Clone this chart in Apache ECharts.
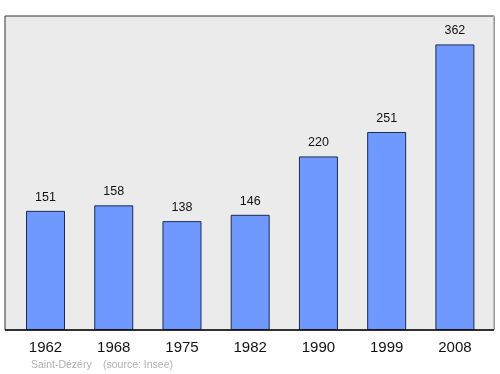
<!DOCTYPE html>
<html><head><meta charset="utf-8">
<script src="https://cdn.jsdelivr.net/npm/echarts@6/dist/echarts.min.js"></script>
<style>html,body{margin:0;padding:0;background:#fff}#c{width:500px;height:374px}</style>
</head><body><div id="c"></div>
<script>
const categories = ['1962','1968','1975','1982','1990','1999','2008'];
const population = [151,158,138,146,220,251,362];
const footerPlace = 'Saint-Dézéry';
const footerSource = '(source: Insee)';

const chart = echarts.init(document.getElementById('c'), null, {renderer:'canvas'});
chart.setOption({
  animation:false,
  grid:[
    {left:5, top:16, right:6, bottom:44, show:true, backgroundColor:'#ebebeb', borderColor:'#333', borderWidth:1, z:0},
    {left:11.4, top:16, right:11, bottom:44}
  ],
  xAxis:[
    {gridIndex:0, type:'value', min:0, max:1, show:false},
    {gridIndex:1, type:'category', data:categories, boundaryGap:true,
     axisLine:{show:false}, axisTick:{show:false},
     axisLabel:{color:'#111', fontSize:15, fontFamily:'Liberation Sans, Arial, sans-serif', margin:10}}
  ],
  yAxis:[
    {gridIndex:0, type:'value', min:0, max:1, show:false},
    {gridIndex:1, type:'value', min:0, max:398, show:false}
  ],
  series:[{
    type:'bar', xAxisIndex:1, yAxisIndex:1, data:population, barWidth:39,
    itemStyle:{color:'#7099ff', borderColor:'#1c2a55', borderWidth:1},
    label:{show:true, position:'top', distance:7, color:'#111', fontSize:12.5, fontFamily:'Liberation Sans, Arial, sans-serif'}
  }],
  graphic:[
    {type:'line', shape:{x1:493.5, y1:16, x2:493.5, y2:330}, style:{stroke:'#bbb', lineWidth:1}, z:10},
    {type:'line', shape:{x1:5, y1:330, x2:494, y2:330}, style:{stroke:'#111', lineWidth:1.5}, z:10},
    {type:'text', left:31, top:359.5, style:{text:footerPlace, fill:'#b0b0b0', fontSize:10.5, fontFamily:'Liberation Sans, Arial, sans-serif'}},
    {type:'text', left:103, top:359.5, style:{text:footerSource, fill:'#b0b0b0', fontSize:10.5, fontFamily:'Liberation Sans, Arial, sans-serif'}}
  ]
});
</script></body></html>
